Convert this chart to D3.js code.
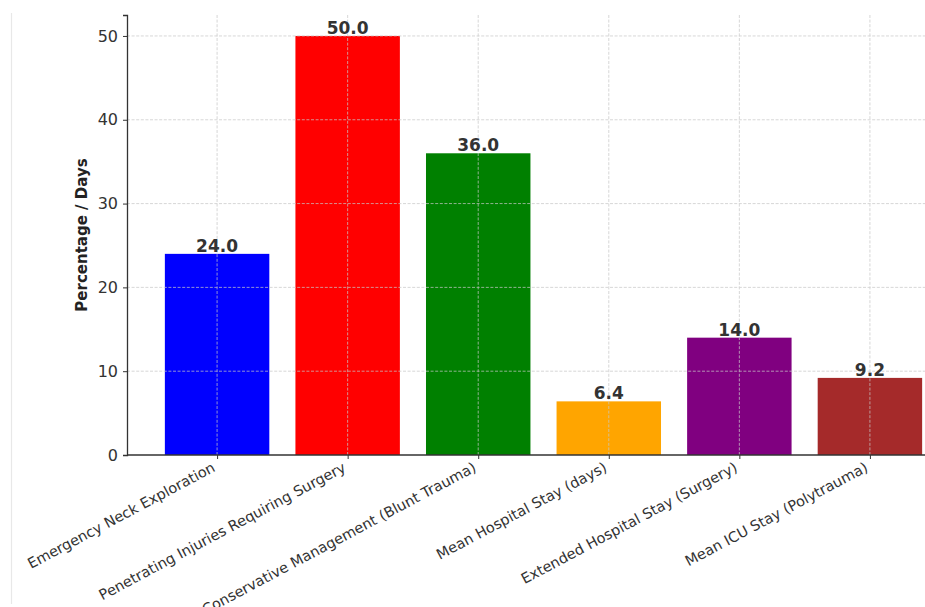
<!DOCTYPE html>
<html><head><meta charset="utf-8">
<script src="https://cdn.jsdelivr.net/npm/d3@7"></script>
<style>
html,body{margin:0;padding:0;background:#fff;overflow:hidden;}
text{font-family:"DejaVu Sans",sans-serif;}
</style>
</head><body>
<svg id="c" width="925" height="607"></svg>
<script>
const categories = ["Emergency Neck Exploration","Penetrating Injuries Requiring Surgery","Conservative Management (Blunt Trauma)","Mean Hospital Stay (days)","Extended Hospital Stay (Surgery)","Mean ICU Stay (Polytrauma)"];
const values = [24.0, 50.0, 36.0, 6.4, 14.0, 9.2];
const colors = ["#0000ff","#ff0000","#008000","#ffa500","#800080","#a52a2a"];
const yTicks = [0,10,20,30,40,50];
const yLabel = "Percentage / Days";

const svg = d3.select("#c");
// faint image border line
svg.append("line").attr("x1",11.5).attr("x2",11.5).attr("y1",13).attr("y2",604)
  .attr("stroke","#e8e8e8").attr("stroke-width",1.2);

const x = d3.scaleLinear().domain([-0.69, 5.69]).range([127, 960]);
const y = d3.scaleLinear().domain([0, 52.5]).range([455, 15]);
const bw = x(0.8) - x(0);

// bars
svg.selectAll("rect.bar").data(values).join("rect").attr("class","bar")
  .attr("x",(d,i)=>x(i)-bw/2).attr("width",bw)
  .attr("y",d=>y(d)).attr("height",d=>y(0)-y(d))
  .attr("fill",(d,i)=>colors[i]);

// grid (on top)
const g = svg.append("g").attr("stroke","#c8c8c8").attr("stroke-width",0.9)
  .attr("stroke-dasharray","3,1.6").attr("opacity",0.8);
yTicks.forEach(t=>{ if(t>0) g.append("line").attr("x1",127).attr("x2",925).attr("y1",y(t)).attr("y2",y(t)); });
categories.forEach((c,i)=>{ g.append("line").attr("x1",x(i)).attr("x2",x(i)).attr("y1",y(52.5)).attr("y2",y(0)); });

// axes
const yAxis = d3.axisLeft(y).tickValues(yTicks).tickSize(4).tickPadding(5).tickFormat(d3.format("d"));
const ya = svg.append("g").attr("transform","translate(127,0)").call(yAxis);
ya.select(".domain").attr("stroke","#333").attr("stroke-width",1.3);
ya.selectAll(".tick line").attr("stroke","#333");
ya.selectAll(".tick text").attr("font-size",16).attr("fill","#333");

const xAxis = d3.axisBottom(x).tickValues(d3.range(categories.length)).tickSize(4).tickFormat(()=>"");
const xa = svg.append("g").attr("transform","translate(0,455)").call(xAxis);
xa.select(".domain").attr("d","M127,0H925").attr("stroke","#333").attr("stroke-width",1.3);
xa.selectAll(".tick line").attr("stroke","#333");

// rotated tick labels
svg.append("g").selectAll("text").data(categories).join("text")
  .attr("transform",(d,i)=>`translate(${x(i)-6},${461}) rotate(-28)`)
  .attr("text-anchor","end").attr("dy","0.75em")
  .attr("font-size",14.5).attr("fill","#333").text(d=>d);

// value labels
svg.append("g").selectAll("text").data(values).join("text")
  .attr("x",(d,i)=>x(i)).attr("y",d=>y(d)-2)
  .attr("text-anchor","middle").attr("font-size",17).attr("font-weight","bold")
  .attr("fill","#333").text(d=>d.toFixed(1));

// y label
svg.append("text").attr("transform","translate(87,235) rotate(-90)")
  .attr("text-anchor","middle").attr("font-size",15).attr("font-weight","bold")
  .attr("fill","#222").text(yLabel);
</script>
</body></html>
